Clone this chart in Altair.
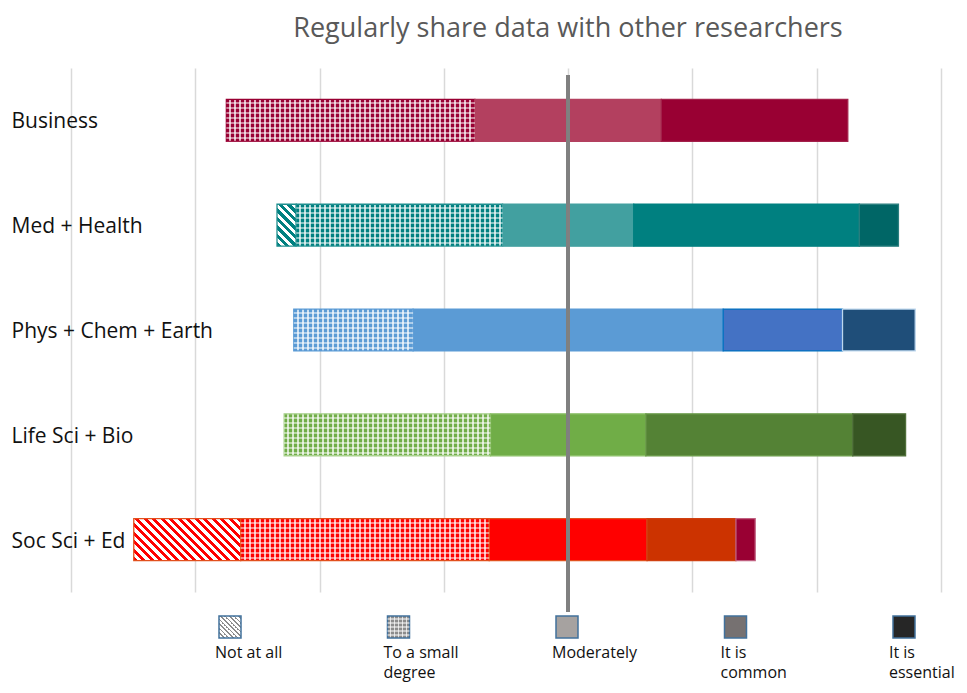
import math
import altair as alt

# ---------------- data ----------------
categories = ["Business", "Med + Health", "Phys + Chem + Earth", "Life Sci + Bio", "Soc Sci + Ed"]
responses = ["Not at all", "To a small degree", "Moderately", "It is common", "It is essential"]
legend_labels = ["Not at all", "To a small\ndegree", "Moderately", "It is\ncommon", "It is\nessential"]

not_at_all = [0.0, 3.1, 0.0, 0.0, 17.2]
small_degree = [40.0, 33.2, 19.2, 33.2, 40.0]
moderately = [30.0, 21.1, 49.9, 25.0, 25.4]
common = [30.0, 36.3, 19.2, 33.3, 14.3]
essential = [0.0, 6.3, 11.7, 8.5, 3.1]

x_ticks = [-80, -60, -40, -20, 0, 20, 40, 60]

# ---------------- style ----------------
seg_colors = {
    "Business": ["#990033", "#990033", "#B3405F", "#990033", "#990033"],
    "Med + Health": ["#008080", "#008080", "#42A0A0", "#008080", "#006666"],
    "Phys + Chem + Earth": ["#5B9BD5", "#5B9BD5", "#5B9BD5", "#4472C4", "#1F4E79"],
    "Life Sci + Bio": ["#70AD47", "#70AD47", "#70AD47", "#548235", "#375623"],
    "Soc Sci + Ed": ["#FF0000", "#FF0000", "#FF0000", "#CC3300", "#990033"],
}
seg_strokes = {
    "Business": ["#990033", "#990033", "#B3405F", "#A3204A", "#990033"],
    "Med + Health": ["#1F8F8F", "#1F8F8F", "#42A0A0", "#008080", "#2A7F7F"],
    "Phys + Chem + Earth": ["#5B9BD5", "#5B9BD5", "#5B9BD5", "#0070C0", "#BDD7EE"],
    "Life Sci + Bio": ["#A9D18E", "#A9D18E", "#8CC068", "#6A9A4A", "#50703A"],
    "Soc Sci + Ed": ["#E2501E", "#E2501E", "#E2501E", "#D04010", "#C06080"],
}
legend_colors = ["#8C8C8C", "#8C8C8C", "#A6A2A0", "#767171", "#262626"]

PLOT_W = 870
PLOT_H = 524
X_MIN, X_MAX = -80, 60
PX = PLOT_W / (X_MAX - X_MIN)
BAR_H = PLOT_H / 5 * 0.4


def mix(c, t):
    c = c.lstrip("#")
    r, g, b = int(c[0:2], 16), int(c[2:4], 16), int(c[4:6], 16)
    r, g, b = [round(v + (255 - v) * t) for v in (r, g, b)]
    return "#%02x%02x%02x" % (r, g, b)


def hatch(color, w, h, period=8.5, frac=0.5, bg="#ffffff"):
    n = (w + h) / period
    k = w * w + h * h
    x2 = w * (w + h) / k
    y2 = 1 - h * (w + h) / k
    stops = []
    for i in range(int(math.ceil(n))):
        a = i / n
        b = min((i + frac) / n, 1)
        c = min((i + 1) / n, 1)
        stops += [{"offset": a, "color": color}, {"offset": b, "color": color},
                  {"offset": b, "color": bg}, {"offset": c, "color": bg}]
    return {"gradient": "linear", "x1": 0, "y1": 1, "x2": x2, "y2": y2, "stops": stops}


def vstripes(color, w, period=5.0, frac=0.6):
    light = mix(color, 0.7)
    n = max(w / period, 1)
    stops = []
    for i in range(int(math.ceil(n))):
        a = i / n
        b = min((i + frac) / n, 1)
        c = min((i + 1) / n, 1)
        stops += [{"offset": a, "color": color}, {"offset": b, "color": color},
                  {"offset": b, "color": light}, {"offset": c, "color": light}]
    return {"gradient": "linear", "x1": 0, "y1": 0, "x2": 1, "y2": 0, "stops": stops}


def hstripes(h, period=5.0, frac=0.6):
    n = h / period
    stops = []
    for i in range(int(math.ceil(n))):
        a = i / n
        b = min((i + frac) / n, 1)
        c = min((i + 1) / n, 1)
        stops += [alt.GradientStop(offset=a, color="rgba(255,255,255,0)"),
                  alt.GradientStop(offset=b, color="rgba(255,255,255,0)"),
                  alt.GradientStop(offset=b, color="rgba(255,255,255,0.5)"),
                  alt.GradientStop(offset=c, color="rgba(255,255,255,0.5)")]
    return alt.Gradient(gradient="linear", x1=0, y1=0, x2=0, y2=1, stops=stops)


# ---------------- table ----------------
series = [not_at_all, small_degree, moderately, common, essential]
records = []
for i, cat in enumerate(categories):
    vals = [s[i] for s in series]
    x = -(vals[0] + vals[1] + vals[2] / 2)
    for j, resp in enumerate(responses):
        v = vals[j]
        if v > 0:
            col = seg_colors[cat][j]
            if j == 0:
                fill = hatch(col, v * PX, BAR_H)
            elif j == 1:
                fill = vstripes(col, v * PX)
            else:
                fill = col
            records.append({"cat": cat, "resp": resp, "x0": x, "x1": x + v,
                            "fill": fill, "stroke": seg_strokes[cat][j]})
        x += v

SQ = 22
legend_records = []
for j, resp in enumerate(responses):
    col = legend_colors[j]
    if j == 0:
        fill = hatch(col, SQ, SQ, period=4.5, frac=0.35)
    elif j == 1:
        fill = vstripes(col, SQ, period=4.0)
    else:
        fill = col
    legend_records.append({"resp": resp, "label": legend_labels[j], "fill": fill})

data = alt.Data(values=records)
ldata = alt.Data(values=legend_records)

x_enc = alt.X("x0:Q", scale=alt.Scale(domain=[X_MIN, X_MAX], nice=False, zero=False),
              axis=alt.Axis(values=x_ticks, grid=True, labels=False, ticks=False, domain=False,
                            title=None, gridColor="#D9D9D9", gridWidth=1.5))
y_enc = alt.Y("cat:N", sort=categories,
              scale=alt.Scale(paddingInner=0.6, paddingOuter=0.3),
              axis=alt.Axis(title=None, ticks=False, domain=False, labelAlign="left",
                            labelPadding=60, labelFontSize=21, labelFont="Open Sans",
                            labelColor="#111111", labelLimit=400, labelOffset=2))

bars = alt.Chart(data).mark_bar(strokeWidth=1.3).encode(
    x=x_enc, x2="x1:Q", y=y_enc,
    fill=alt.Fill("fill:N", scale=None),
    stroke=alt.Stroke("stroke:N", scale=None),
)

overlay = alt.Chart(data).mark_bar(fill=hstripes(BAR_H)).encode(
    x="x0:Q", x2="x1:Q", y=alt.Y("cat:N", sort=categories),
).transform_filter(alt.datum.resp == "To a small degree")

center = alt.Chart(data).mark_rule(color="#808080", strokeWidth=3).encode(
    x=alt.datum(0), y=alt.value(7), y2=alt.value(544)
)

main = alt.layer(bars, overlay, center)

lx = alt.X("resp:N", sort=responses,
           scale=alt.Scale(type="point", domain=responses, range=[159, 833], padding=0),
           axis=None)

leg_sq = alt.Chart(ldata).mark_square(size=SQ * SQ, opacity=1, stroke="#41719C", strokeWidth=1.5).encode(
    x=lx, y=alt.value(559), fill=alt.Fill("fill:N", scale=None)
)
leg_sq_over = alt.Chart(ldata).mark_square(size=SQ * SQ, opacity=1, fill=hstripes(SQ, period=4.0)).encode(
    x=lx, y=alt.value(559)
).transform_filter(alt.datum.resp == "To a small degree")

leg_txt = alt.Chart(ldata).mark_text(align="left", baseline="top", dx=-15, fontSize=16,
                                     font="Open Sans", lineHeight=20, lineBreak="\n",
                                     color="#111111").encode(
    x=lx, y=alt.value(577), text="label:N"
)

legend = alt.layer(leg_sq, leg_sq_over, leg_txt)

chart = alt.layer(main, legend).resolve_scale(x="independent").properties(
    width=PLOT_W, height=PLOT_H,
    title=alt.TitleParams("Regularly share data with other researchers", font="Open Sans",
                          fontSize=27, fontWeight="normal", color="#595959", anchor="middle",
                          frame="group", dx=62, offset=4, baseline="alphabetic"),
    autosize=alt.AutoSizeParams(type="none"),
    padding={"left": 63, "top": 60, "right": 18, "bottom": 93},
    background="white",
).configure_view(stroke=None)

chart.save("out.html", embed_options={"renderer": "svg", "actions": False})
